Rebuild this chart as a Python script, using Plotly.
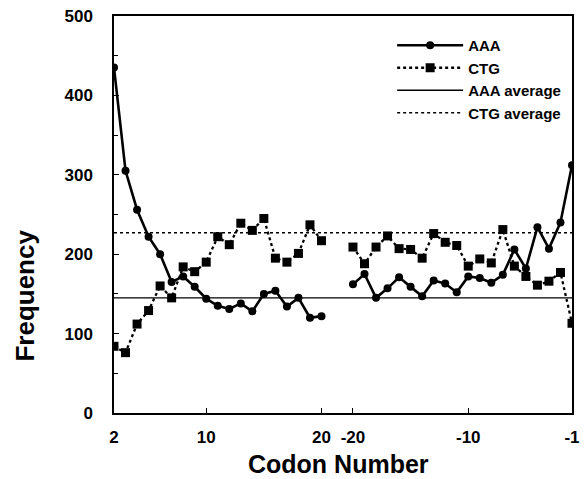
import plotly.graph_objects as go

# ---- data ----
codons_start = list(range(2, 21))          # 2 .. 20
codons_end = list(range(-20, 0))           # -20 .. -1
aaa_start = [435, 305, 256, 222, 200, 165, 172, 159, 144, 135, 131, 138, 128, 150, 154, 134, 145, 120, 122]
ctg_start = [84, 76, 112, 129, 160, 145, 184, 178, 190, 222, 212, 239, 230, 245, 195, 190, 201, 237, 217]
aaa_end = [162, 175, 145, 157, 171, 159, 147, 167, 163, 152, 172, 170, 164, 174, 206, 182, 234, 207, 240, 312]
ctg_end = [209, 188, 209, 223, 207, 206, 195, 226, 215, 211, 185, 194, 189, 231, 185, 172, 161, 166, 177, 113]
aaa_average = 145
ctg_average = 227
tick_codons = [2, 10, 20, -20, -10, -1]
tick_labels = ["2", "10", "20", "-20", "-10", "-1"]

# position on a continuous axis: the end segment follows the start segment after a small gap
GAP = 2.73
def pos(n):
    return n if n > 0 else 20 + GAP + (n + 20)

x_all = [pos(n) for n in codons_start] + [None] + [pos(n) for n in codons_end]
aaa_all = aaa_start + [None] + aaa_end
ctg_all = ctg_start + [None] + ctg_end
x_min = pos(codons_start[0])
x_max = pos(codons_end[-1])

W, H = 586, 479
L, R, T, B = 114, 6, 16, 66
pw, ph = W - L - R, H - T - B
def px_x(x):
    return (x - L) / pw
def px_y(y):
    return (H - B - y) / ph

fig = go.Figure()
fig.add_trace(go.Scatter(x=x_all, y=aaa_all, name="AAA", mode="lines+markers",
                         line=dict(color="black", width=2.6),
                         marker=dict(symbol="circle", size=8, color="black"),
                         connectgaps=False))
fig.add_trace(go.Scatter(x=x_all, y=ctg_all, name="CTG", mode="lines+markers",
                         line=dict(color="black", width=2.3, dash="dot"),
                         marker=dict(symbol="square", size=9, color="black"),
                         connectgaps=False))
fig.add_trace(go.Scatter(x=[x_min, x_max], y=[aaa_average, aaa_average], name="AAA average",
                         mode="lines", line=dict(color="black", width=1.3)))
fig.add_trace(go.Scatter(x=[x_min, x_max], y=[ctg_average, ctg_average], name="CTG average",
                         mode="lines", line=dict(color="black", width=1.6, dash="dot")))

font_family = "Liberation Sans, Arial, sans-serif"
fig.update_layout(
    width=W, height=H,
    margin=dict(l=L, r=R, t=T, b=B),
    plot_bgcolor="white", paper_bgcolor="white",
    font=dict(family=font_family, color="black"),
    showlegend=True,
    legend=dict(x=px_x(397), y=px_y(29), xanchor="left", yanchor="top",
                font=dict(size=15, weight="bold", family=font_family),
                itemwidth=66, bgcolor="rgba(0,0,0,0)", borderwidth=0),
    xaxis=dict(range=[x_min, x_max], tickvals=[pos(n) for n in tick_codons], ticktext=tick_labels,
               showline=True, mirror=True, linecolor="black", linewidth=1.5,
               ticks="inside", ticklen=5, tickcolor="black", tickwidth=1,
               showgrid=False, zeroline=False,
               tickfont=dict(size=17, weight="bold", family=font_family),
               ticklabelstandoff=8),
    yaxis=dict(range=[0, 500], dtick=100, tick0=0,
               showline=True, mirror=True, linecolor="black", linewidth=1.5,
               ticks="inside", ticklen=5, tickcolor="black", tickwidth=1,
               minor=dict(dtick=50, ticks="inside", ticklen=4, tickcolor="black"),
               showgrid=False, zeroline=False,
               tickfont=dict(size=17, weight="bold", family=font_family),
               ticklabelstandoff=16),
    annotations=[
        dict(text="Frequency", xref="paper", yref="paper", x=px_x(23), y=px_y(296),
             textangle=-90, showarrow=False, xanchor="center", yanchor="middle",
             font=dict(size=26, weight="bold", family=font_family)),
        dict(text="Codon Number", xref="paper", yref="paper", x=px_x(342), y=px_y(464),
             showarrow=False, xanchor="center", yanchor="middle",
             font=dict(size=25, weight="bold", family=font_family)),
    ],
)

fig.write_html("out.html")
